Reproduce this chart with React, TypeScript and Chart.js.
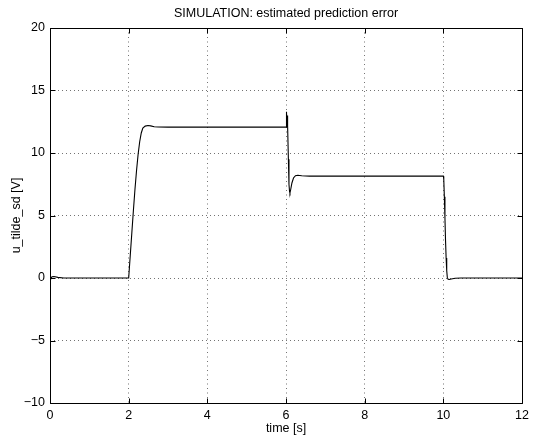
import { useEffect, useRef } from "react";
import { Chart, registerables } from "chart.js";

Chart.register(...registerables);

const timeValues = [
  0, 0.05, 0.1, 0.2, 0.35, 2.0,
  2.04, 2.08, 2.12, 2.16, 2.2, 2.24, 2.28, 2.32, 2.36, 2.42, 2.49, 2.56, 2.65, 2.75, 3.0,
  6.0, 6.005, 6.012, 6.02, 6.028, 6.035, 6.045, 6.06, 6.075, 6.09, 6.1, 6.12, 6.15, 6.19, 6.24, 6.3, 6.4, 6.6,
  10.0, 10.01, 10.025, 10.04, 10.055, 10.07, 10.085, 10.1, 10.12, 10.15, 10.2, 10.3, 10.45, 12,
];
const errorValues = [
  -0.2, 0.1, 0.12, 0.05, 0, 0,
  1.8, 3.6, 5.4, 7.1, 8.6, 9.9, 10.9, 11.6, 12.0, 12.15, 12.2, 12.17, 12.1, 12.08, 12.07,
  12.07, 13.3, 12.3, 13.2, 12.4, 13.0, 12.2, 9.5, 7.5, 6.9, 6.8, 7.1, 7.6, 8.0, 8.18, 8.22, 8.18, 8.15,
  8.15, 7.9, 6.5, 4.8, 3.0, 1.6, 0.6, 0.05, -0.1, -0.12, -0.08, -0.02, 0, 0,
];

const xTickValues = [0, 2, 4, 6, 8, 10, 12];
const yTickValues = [-10, -5, 0, 5, 10, 15, 20];
const chartTitle = "SIMULATION: estimated prediction error";
const xAxisTitle = "time [s]";
const yAxisTitle = "u_tilde_sd [V]";

const FONT = "'Liberation Sans', Arial, Helvetica, sans-serif";

const fmt = (v: number) => (v < 0 ? "\u2212" + Math.abs(v) : String(v));

const matlabFrame = {
  id: "matlabFrame",
  afterDraw(chart: any) {
    const { ctx, chartArea } = chart;
    const xs = chart.scales.x;
    const ys = chart.scales.y;
    const L = Math.round(xs.getPixelForValue(xs.min)) + 0.5;
    const R = Math.round(xs.getPixelForValue(xs.max)) + 0.5;
    const T = Math.round(ys.getPixelForValue(ys.max)) + 0.5;
    const B = Math.round(ys.getPixelForValue(ys.min)) + 0.5;
    ctx.save();
    ctx.strokeStyle = "#000";
    ctx.lineWidth = 1;
    ctx.beginPath();
    ctx.rect(L, T, R - L, B - T);
    const tl = 5;
    for (const v of xTickValues) {
      const px = Math.round(xs.getPixelForValue(v)) + 0.5;
      ctx.moveTo(px, B);
      ctx.lineTo(px, B - tl);
      ctx.moveTo(px, T);
      ctx.lineTo(px, T + tl);
    }
    for (const v of yTickValues) {
      const py = Math.round(ys.getPixelForValue(v)) + 0.5;
      ctx.moveTo(L, py);
      ctx.lineTo(L + tl, py);
      ctx.moveTo(R, py);
      ctx.lineTo(R - tl, py);
    }
    ctx.stroke();

    ctx.fillStyle = "#000";
    const cx = (chartArea.left + chartArea.right) / 2;
    ctx.font = `12.5px ${FONT}`;
    ctx.textAlign = "center";
    ctx.textBaseline = "middle";
    ctx.fillText(chartTitle, cx, 14);
    ctx.fillText(xAxisTitle, cx, 429);
    ctx.save();
    ctx.translate(17, (chartArea.top + chartArea.bottom) / 2);
    ctx.rotate(-Math.PI / 2);
    ctx.fillText(yAxisTitle, 0, 0);
    ctx.restore();
    ctx.restore();
  },
};

export default function App() {
  const ref = useRef<HTMLCanvasElement | null>(null);

  useEffect(() => {
    if (!ref.current) return;
    const data = timeValues.map((t, i) => ({ x: t, y: errorValues[i] }));
    const gridOpts = {
      color: "rgba(0,0,0,0.55)",
      lineWidth: 1,
      drawTicks: false,
    };
    const chart = new Chart(ref.current, {
      type: "line",
      data: {
        datasets: [
          {
            data,
            borderColor: "#000",
            borderWidth: 1.1,
            pointRadius: 0,
            tension: 0,
            fill: false,
          },
        ],
      },
      options: {
        responsive: false,
        animation: false,
        devicePixelRatio: 1,
        layout: { padding: { left: 0, right: 9, top: 28, bottom: 0 } },
        plugins: {
          legend: { display: false },
          title: { display: false },
          tooltip: { enabled: false },
        },
        scales: {
          x: {
            type: "linear",
            min: 0,
            max: 12,
            border: { display: false, dash: [1, 3.5] },
            grid: gridOpts,
            ticks: {
              stepSize: 2,
              padding: 5,
              color: "#000",
              maxRotation: 0,
              font: { family: FONT, size: 12.5 },
              callback: (v: any) => fmt(Number(v)),
            },
            afterFit: (s: any) => {
              s.height = 35;
            },
          },
          y: {
            type: "linear",
            min: -10,
            max: 20,
            border: { display: false, dash: [1, 3] },
            grid: gridOpts,
            ticks: {
              stepSize: 5,
              padding: 5,
              color: "#000",
              font: { family: FONT, size: 12.5 },
              callback: (v: any) => fmt(Number(v)),
            },
            afterFit: (s: any) => {
              s.width = 50;
            },
          },
        },
      },
      plugins: [matlabFrame],
    } as any);
    return () => chart.destroy();
  }, []);

  return (
    <div style={{ position: "absolute", left: 0, top: 0, width: 534, height: 438, background: "#fff" }}>
      <canvas ref={ref} width={534} height={438} style={{ width: 534, height: 438, display: "block" }} />
    </div>
  );
}
